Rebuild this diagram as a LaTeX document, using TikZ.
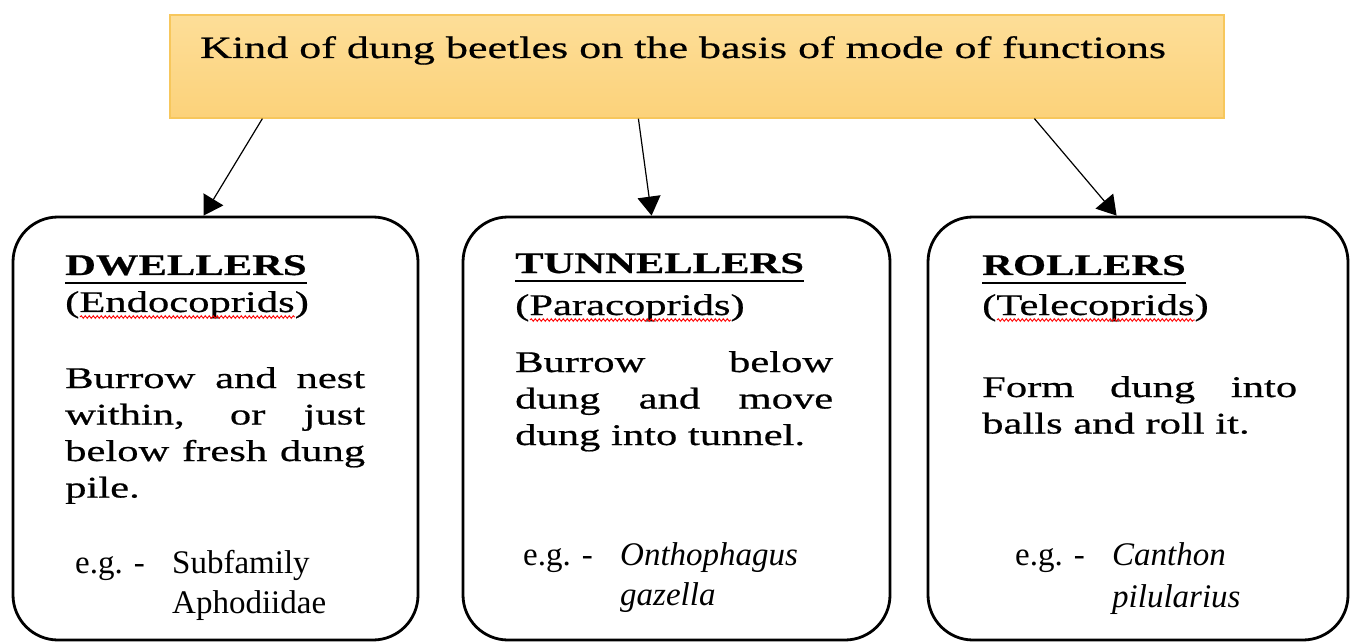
\documentclass[tikz,border=0pt]{standalone}
\usepackage{fontspec}
\setmainfont{Liberation Serif}
\newfontfamily\wideserif[FakeStretch=1.42,FakeBold=0.6]{Liberation Serif}
\usetikzlibrary{arrows.meta,calc,decorations.pathmorphing}
\definecolor{kindtop}{HTML}{FDDE98}
\definecolor{kindbot}{HTML}{FCD27A}
\definecolor{kindedge}{HTML}{F7C75C}
\newcommand{\spread}[2]{\makebox[#1][s]{#2}}

\begin{document}
\begin{tikzpicture}[x=1pt,y=-1pt,
  kindbox/.style={draw=kindedge, line width=1.2pt, top color=kindtop, bottom color=kindbot,
    minimum width=1054pt, minimum height=103pt, inner sep=0pt},
  beetlebox/.style={draw, line width=2.8pt, rounded corners=45pt, minimum height=423pt, inner sep=0pt},
  txt/.style={anchor=base west, inner sep=0pt, align=left, font=\wideserif\fontsize{30}{36.5}\selectfont},
  hdr/.style={txt, font=\wideserif\bfseries\fontsize{30}{36.5}\selectfont},
  eg/.style={anchor=base west, inner sep=0pt, align=left, font=\fontsize{33}{40}\selectfont},
  link/.style={line width=1.2pt, -{Triangle[length=19pt,width=23pt]}},
  redline/.style={red, line width=0.9pt, decorate, decoration={snake, amplitude=1.3pt, segment length=4pt}}
]
  \useasboundingbox (0,0) rectangle (1354,644);

  % top box
  \node[kindbox] (head) at (697,66.5) {};
  \node[txt, font=\wideserif\fontsize{31}{36}\selectfont] (headtxt) at (200,58)
    {Kind of dung beetles on the basis of mode of functions};

  % three kinds
  \node[beetlebox, minimum width=405pt] (dw) at (215.5,428.5) {};
  \node[beetlebox, minimum width=427pt] (tu) at (676.5,428.5) {};
  \node[beetlebox, minimum width=420pt] (ro) at (1138,428.5) {};

  \draw[link] ($(head.south west)+(93,0)$) -- ($(dw.north west)+(192,0)$);
  \draw[link] ($(head.south west)+(469,0)$) -- ($(tu.north west)+(190,0)$);
  \draw[link] ($(head.south west)+(865,0)$) -- ($(ro.north west)+(190,0)$);

  % dwellers (multi-line nodes sit on their last line)
  \node[hdr] (dwhead) at (65,275) {DWELLERS};
  \node[txt] (dwsub) at (65,312) {(Endocoprids)};
  \node[txt] (dwtext) at (65,497.5) {\spread{300pt}{Burrow and nest}\\
    \spread{300pt}{within, or just}\\ \spread{300pt}{below fresh dung}\\ pile.};
  \node[eg] (dweg) at (75,573) {e.g. -};
  \node[eg] (dwname) at (172,613) {Subfamily\\Aphodiidae};

  % tunnellers
  \node[hdr] (tuhead) at (515,273) {TUNNELLERS};
  \node[txt] (tusub) at (515,315) {(Paracoprids)};
  \node[txt] (tutext) at (515,445) {\spread{318pt}{Burrow below}\\
    \spread{318pt}{dung and move}\\ dung into tunnel.};
  \node[eg] (tueg) at (523,565) {e.g. -};
  \node[eg, font=\itshape\fontsize{33}{40}\selectfont] (tuname) at (620,605) {Onthophagus\\gazella};

  % rollers
  \node[hdr] (rohead) at (982,275) {ROLLERS};
  \node[txt] (rosub) at (982,315) {(Telecoprids)};
  \node[txt] (rotext) at (982,433.5) {\spread{315pt}{Form dung into}\\ balls and roll it.};
  \node[eg] (roeg) at (1015,565) {e.g. -};
  \node[eg, font=\itshape\fontsize{33}{42}\selectfont] (roname) at (1112,607) {Canthon\\pilularius};

  % underlines
  \foreach \n in {dwhead,tuhead,rohead}
    \draw[line width=2.6pt] ($(\n.base west)+(0,8)$) -- ($(\n.base east)+(0,8)$);
  \foreach \n in {dwsub,tusub,rosub}
    \draw[redline] ($(\n.base west)+(15,5)$) -- ($(\n.base east)+(-14,5)$);
\end{tikzpicture}
\end{document}
